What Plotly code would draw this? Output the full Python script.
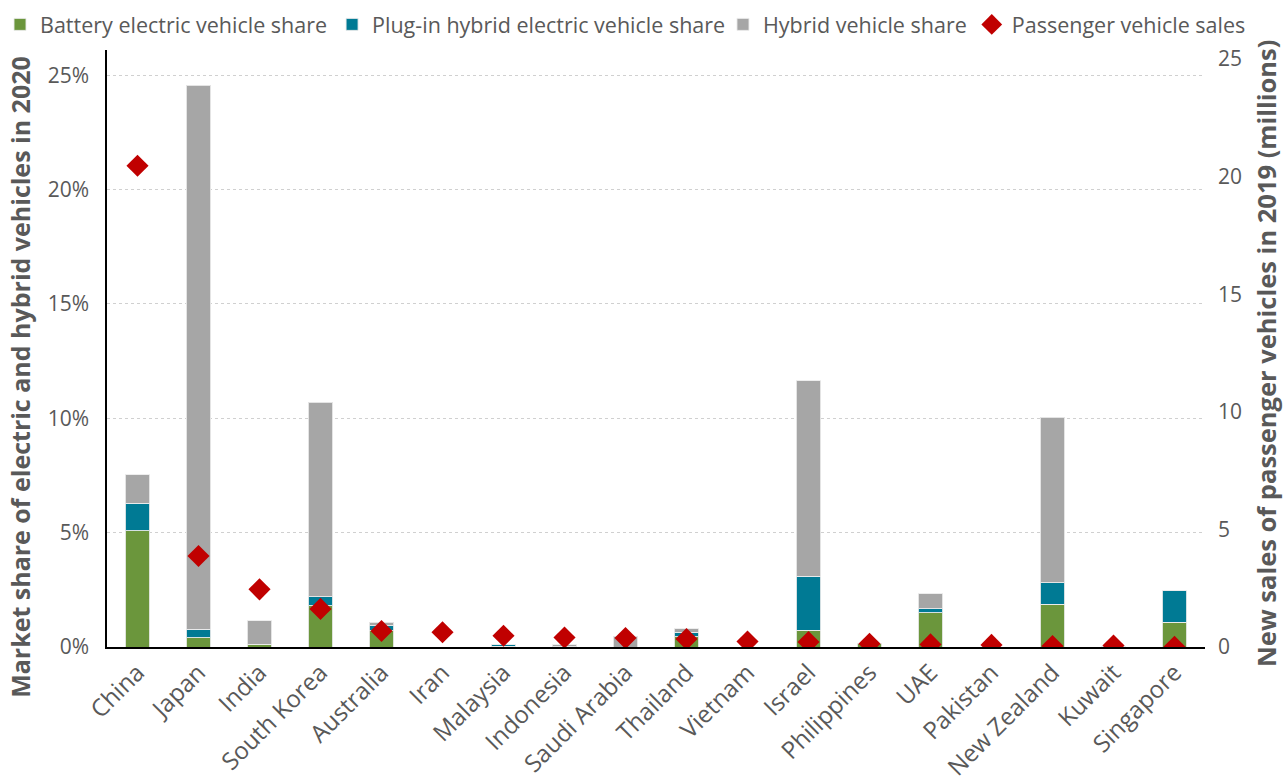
import plotly.graph_objects as go

# Countries shown along the category axis
countries = ["China", "Japan", "India", "South Korea", "Australia", "Iran",
             "Malaysia", "Indonesia", "Saudi Arabia", "Thailand", "Vietnam",
             "Israel", "Philippines", "UAE", "Pakistan", "New Zealand",
             "Kuwait", "Singapore"]

# Market shares in 2020 (percent of new passenger vehicle sales)
bev_share = [5.08, 0.41, 0.13, 1.81, 0.74, 0.0, 0.03, 0.0, 0.0, 0.45, 0.0,
             0.73, 0.16, 1.50, 0.0, 1.87, 0.0, 1.08]
phev_share = [1.21, 0.36, 0.0, 0.38, 0.18, 0.0, 0.09, 0.02, 0.0, 0.20, 0.0,
              2.36, 0.0, 0.18, 0.0, 0.95, 0.03, 1.39]
hev_share = [1.24, 23.78, 1.01, 8.50, 0.16, 0.0, 0.0, 0.07, 0.48, 0.15, 0.0,
             8.55, 0.0, 0.64, 0.0, 7.22, 0.0, 0.0]

# New passenger vehicle sales in 2019 (millions)
sales_2019 = [20.46, 3.87, 2.45, 1.62, 0.68, 0.63, 0.48, 0.40, 0.38, 0.34,
              0.23, 0.21, 0.14, 0.11, 0.09, 0.04, 0.06, 0.01]

share_ticks = [0, 5, 10, 15, 20, 25]
sales_ticks = [0, 5, 10, 15, 20, 25]

GREEN = "#6B963C"
TEAL = "#007A94"
GREY = "#A6A6A6"
RED = "#C00000"
TEXT = "#595959"
FONT = "Open Sans"

fig = go.Figure()

bar_line = dict(color="rgba(235,235,235,0.9)", width=1)
fig.add_trace(go.Bar(x=countries, y=bev_share, name="Battery electric vehicle share",
                     marker=dict(color=GREEN, line=bar_line), width=0.4,
                     legend="legend"))
fig.add_trace(go.Bar(x=countries, y=phev_share, name="Plug-in hybrid electric vehicle share",
                     marker=dict(color=TEAL, line=bar_line), width=0.4,
                     legend="legend"))
fig.add_trace(go.Bar(x=countries, y=hev_share, name="Hybrid vehicle share",
                     marker=dict(color=GREY, line=bar_line), width=0.4,
                     legend="legend2"))
fig.add_trace(go.Scatter(x=countries, y=sales_2019, name="Passenger vehicle sales",
                         mode="markers", yaxis="y2", legend="legend2",
                         marker=dict(symbol="diamond", size=17, color=RED,
                                     line=dict(width=0))))

legend_common = dict(orientation="h", yref="container", y=0.995, yanchor="top",
                     xanchor="left", font=dict(size=21.5, color=TEXT, family=FONT),
                     itemwidth=30, tracegroupgap=0, traceorder="normal",
                     bgcolor="rgba(0,0,0,0)")

fig.update_layout(
    width=1284, height=783,
    barmode="stack",
    paper_bgcolor="white", plot_bgcolor="white",
    margin=dict(l=107, r=79, t=50, b=136, autoexpand=False),
    font=dict(family=FONT, color=TEXT),
    showlegend=True,
    legend=dict(legend_common, xref="container", x=0.0),
    legend2=dict(legend_common, xref="paper", x=0.561),
    xaxis=dict(
        type="category", showgrid=False, tickangle=-45,
        tickfont=dict(size=24, color=TEXT, family=FONT),
        showline=True, linecolor="black", linewidth=2,
        ticks="", range=[-0.5, 17.5],
    ),
    yaxis=dict(
        range=[0, 26.1], tickvals=share_ticks,
        ticktext=[f"{v}%" for v in share_ticks],
        tickfont=dict(size=21, color=TEXT, family=FONT),
        showgrid=True, gridcolor="#D0D0D0", griddash="dot", gridwidth=1,
        showline=True, linecolor="black", linewidth=1.5,
        zeroline=False, ticks="", ticklabelstandoff=12,
    ),
    yaxis2=dict(
        overlaying="y", side="right", range=[0, 25.38],
        tickvals=sales_ticks, ticktext=[str(v) for v in sales_ticks],
        tickfont=dict(size=21, color=TEXT, family=FONT),
        showgrid=False, showline=False, zeroline=False, ticks="",
        ticklabelstandoff=12,
    ),
    annotations=[
        dict(text="Market share of electric and hybrid vehicles in 2020",
             xref="paper", yref="paper", x=-0.0795, y=0.452,
             xanchor="center", yanchor="middle", textangle=-90, showarrow=False,
             font=dict(size=25, color=TEXT, family=FONT, weight="bold")),
        dict(text="New sales of passenger vehicles in 2019 (millions)",
             xref="paper", yref="paper", x=1.0555, y=0.4925,
             xanchor="center", yanchor="middle", textangle=-90, showarrow=False,
             font=dict(size=25.5, color=TEXT, family=FONT, weight="bold")),
    ],
)

fig.write_html("out.html")
